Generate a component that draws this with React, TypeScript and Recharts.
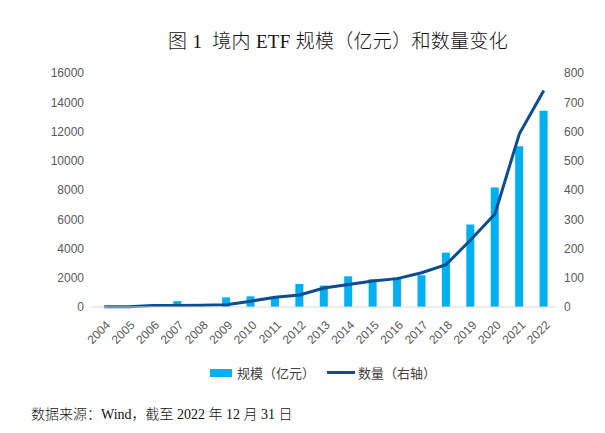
import { ComposedChart, Bar, Line, XAxis, YAxis } from 'recharts';

const years = ['2004', '2005', '2006', '2007', '2008', '2009', '2010', '2011', '2012', '2013', '2014', '2015', '2016', '2017', '2018', '2019', '2020', '2021', '2022'];
const scale = [8, 40, 80, 400, 120, 660, 730, 615, 1575, 1465, 2100, 1895, 2010, 2170, 3720, 5640, 8170, 11000, 13420];
const count = [1, 1, 5, 5, 6, 8, 20, 33, 41, 65, 77, 89, 97, 117, 145, 229, 318, 592, 740];
const leftTicks = [0, 2000, 4000, 6000, 8000, 10000, 12000, 14000, 16000];
const rightTicks = [0, 100, 200, 300, 400, 500, 600, 700, 800];

const data = years.map((year, i) => ({ year, scale: scale[i], count: count[i] }));

const axisFont = { fontSize: 12, fill: '#595959', fontFamily: '"Liberation Sans", Arial, sans-serif' };
const serif = '"Liberation Serif", "Times New Roman", "Noto Sans CJK SC", serif';
const sans = '"Liberation Sans", Arial, "Noto Sans CJK SC", sans-serif';

const YearTick = ({ x, y, payload }: any) => (
  <g transform={`translate(${x + 4},${y + 8})`}>
    <text transform="rotate(-45)" textAnchor="end" dy={4} {...axisFont}>
      {payload.value}
    </text>
  </g>
);

export default function App() {
  return (
    <div style={{ position: 'absolute', left: 0, top: 0, width: 605, height: 433, background: '#fff' }}>
      <div style={{ position: 'absolute', left: 0, width: 676, top: 26, textAlign: 'center', fontFamily: serif, fontSize: 19, fontWeight: 300, letterSpacing: 0.3, color: '#111' }}>
        图 1&nbsp; 境内 ETF 规模（亿元）和数量变化
      </div>
      <ComposedChart width={605} height={433} data={data} margin={{ top: 73, right: 0, left: 32, bottom: 86 }}>
        <XAxis dataKey="year" tick={<YearTick />} tickLine={false} axisLine={{ stroke: '#D9D9D9' }} interval={0} height={40} />
        <YAxis yAxisId="left" domain={[0, 16000]} ticks={leftTicks} tick={axisFont} tickLine={false} axisLine={false} width={60} />
        <YAxis yAxisId="right" orientation="right" domain={[0, 800]} ticks={rightTicks} tick={{ ...axisFont, textAnchor: 'start' }} tickLine={false} axisLine={false} width={49} />
        <Bar yAxisId="left" dataKey="scale" name="规模（亿元）" fill="#00B0F0" barSize={8} isAnimationActive={false} />
        <Line yAxisId="right" dataKey="count" name="数量（右轴）" type="linear" stroke="#0B4C92" strokeWidth={3} dot={false} isAnimationActive={false} />
      </ComposedChart>
      <div style={{ position: 'absolute', top: 363, left: 210, display: 'flex', alignItems: 'center', fontFamily: sans, fontSize: 13, color: '#404040' }}>
        <span style={{ display: 'inline-block', width: 22, height: 8, background: '#00B0F0', marginRight: 5 }} />
        <span>规模（亿元）</span>
        <span style={{ display: 'inline-block', width: 28, height: 3, background: '#0B4C92', marginLeft: 12, marginRight: 3 }} />
        <span>数量（右轴）</span>
      </div>
      <div style={{ position: 'absolute', top: 403, left: 31, fontFamily: serif, fontSize: 14, fontWeight: 300, color: '#111' }}>
        数据来源：Wind，截至 2022 年 12 月 31 日
      </div>
    </div>
  );
}
